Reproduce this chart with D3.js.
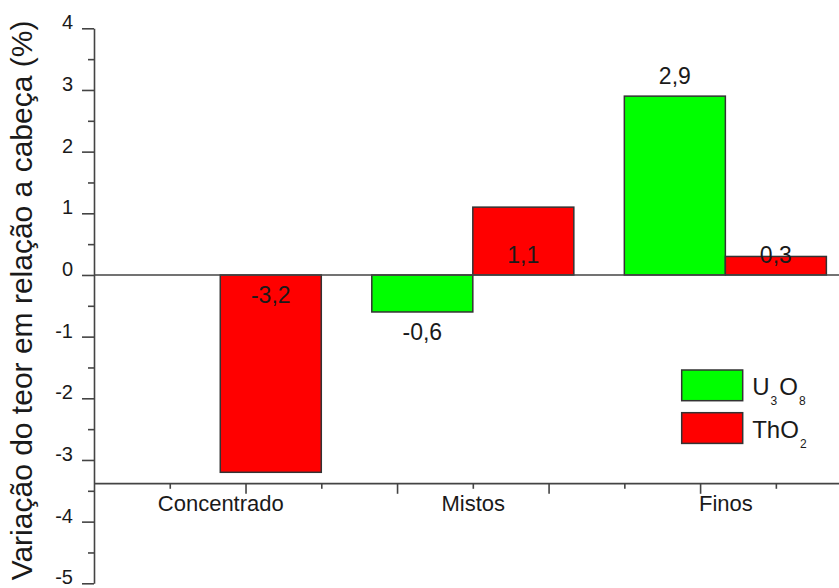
<!DOCTYPE html>
<html>
<head>
<meta charset="utf-8">
<script src="https://cdn.jsdelivr.net/npm/d3@7"></script>
<style>
  body { margin: 0; background: #fff; }
  svg { display: block; }
  text { font-family: "Liberation Sans", Arial, Helvetica, sans-serif; fill: #1a1a1a; }
</style>
</head>
<body>
<svg id="chart" width="839" height="588"></svg>
<script>
// Grade variation of each product relative to the head sample (%)
const categories = ["Concentrado", "Mistos", "Finos"];
const u3o8Values = [null, -0.6, 2.9];   // no U3O8 bar for the concentrate
const tho2Values = [-3.2, 1.1, 0.3];

// Axis tick values
const yMajorTicks = [4, 3, 2, 1, 0, -1, -2, -3, -4, -5];
const yMinorTicks = [3.5, 2.5, 1.5, 0.5, -0.5, -1.5, -2.5, -3.5, -4.5];
const xMajorTicks = [1.1, 1.7, 2.3, 2.9];
const xMinorTicks = [0.8, 1.4, 2.0, 2.6, 3.2];

const series = [
  { key: "U3O8", values: u3o8Values, color: "#00ff00", side: -1, labelMode: "outsideEnd", main: "U", subs: [["3", "O"], ["8", ""]] },
  { key: "ThO2", values: tho2Values, color: "#ff0000", side: 1, labelMode: "insideBase", main: "ThO", subs: [["2", ""]] }
];

const ptBR = d3.formatLocale({ decimal: ",", thousands: ".", grouping: [3], currency: ["R$", ""], minus: "-" });
const fmtValue = ptBR.format(".1f");
const fmtTick = ptBR.format("d");

const svg = d3.select("#chart");
const axisColor = "#444";

const x = d3.scaleLinear().domain([0.5, 3.45]).range([94, 839]);
const y = d3.scaleLinear().domain([-5, 4]).range([583.3, 28.3]);
const barWidth = 0.4;
const xAxisCross = -3.375;

// Bars
series.forEach(s => {
  const pts = s.values.map((v, i) => ({ v, c: i + 1 })).filter(d => d.v !== null);
  svg.append("g").selectAll("rect")
    .data(pts)
    .join("rect")
    .attr("x", d => s.side < 0 ? x(d.c - barWidth) : x(d.c))
    .attr("width", x(barWidth) - x(0))
    .attr("y", d => y(Math.max(0, d.v)))
    .attr("height", d => Math.abs(y(d.v) - y(0)))
    .attr("fill", s.color)
    .attr("stroke", "#333")
    .attr("stroke-width", 1.5);
});

// Zero reference line
svg.append("line")
  .attr("x1", x.range()[0]).attr("x2", x.range()[1])
  .attr("y1", y(0)).attr("y2", y(0))
  .attr("stroke", axisColor).attr("stroke-width", 1.6);

// Y axis
const yAxisG = svg.append("g").attr("transform", `translate(${x.range()[0]},0)`);
yAxisG.call(d3.axisLeft(y).tickValues(yMajorTicks).tickSize(12).tickSizeOuter(0).tickPadding(9).tickFormat(fmtTick));
yAxisG.append("g").call(d3.axisLeft(y).tickValues(yMinorTicks).tickSize(6).tickSizeOuter(0).tickFormat(""))
  .select(".domain").remove();
yAxisG.selectAll("path, line").attr("stroke", axisColor).attr("stroke-width", 1.6);
yAxisG.selectAll("text").attr("font-size", 20).attr("fill", "#222").attr("dy", "0.02em")
  .style("font-family", '"Liberation Sans", Arial, sans-serif');

// X axis (crossing the y axis below the zero line)
const xAxisG = svg.append("g").attr("transform", `translate(0,${y(xAxisCross)})`);
xAxisG.call(d3.axisBottom(x).tickValues(xMajorTicks).tickSize(10.7).tickSizeOuter(0).tickFormat(""));
xAxisG.append("g").call(d3.axisBottom(x).tickValues(xMinorTicks).tickSize(5.7).tickSizeOuter(0).tickFormat(""))
  .select(".domain").remove();
const catAxis = xAxisG.append("g").call(d3.axisBottom(x).tickValues([1, 2, 3]).tickSize(0).tickPadding(12.5)
  .tickFormat(d => categories[d - 1]));
catAxis.select(".domain").remove();
catAxis.selectAll("text").attr("font-size", 22).attr("fill", "#222")
  .style("font-family", '"Liberation Sans", Arial, sans-serif');
xAxisG.selectAll("path, line").attr("stroke", axisColor).attr("stroke-width", 1.6);

// Value labels
series.forEach(s => {
  const pts = s.values.map((v, i) => ({ v, c: i + 1 })).filter(d => d.v !== null);
  svg.append("g").selectAll("text")
    .data(pts)
    .join("text")
    .attr("x", d => x(d.c + s.side * barWidth / 2))
    .attr("y", d => {
      const anchor = s.labelMode === "outsideEnd" ? y(d.v) : y(0);
      return d.v >= 0 ? anchor - 12 : anchor + 28;
    })
    .attr("text-anchor", "middle")
    .attr("font-size", 23)
    .text(d => fmtValue(d.v));
});

// Y axis title
svg.append("text")
  .attr("transform", "translate(32,300.5) rotate(-90)")
  .attr("text-anchor", "middle")
  .attr("font-size", 30)
  .attr("fill", "#222")
  .text("Variação do teor em relação a cabeça (%)");

// Legend
const legend = svg.append("g").attr("transform", "translate(681.7,370)");
series.forEach((s, i) => {
  const g = legend.append("g").attr("transform", `translate(0,${i * 42.7})`);
  g.append("rect").attr("width", 61).attr("height", 30.7)
    .attr("fill", s.color).attr("stroke", "#333").attr("stroke-width", 1.5);
  const t = g.append("text").attr("x", 70.5).attr("y", 25).attr("font-size", 24);
  t.append("tspan").text(s.main);
  s.subs.forEach(([sub, after]) => {
    t.append("tspan").attr("dy", 10).attr("dx", 1).attr("font-size", 12).text(sub);
    if (after) t.append("tspan").attr("dy", -10).attr("dx", 2).text(after);
  });
});
</script>
</body>
</html>
